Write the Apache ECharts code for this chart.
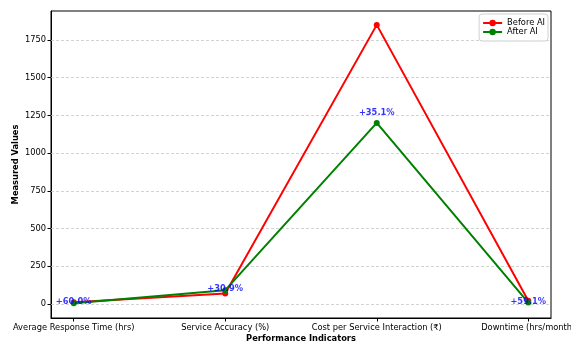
<!DOCTYPE html>
<html>
<head>
<meta charset="utf-8">
<script src="https://cdn.jsdelivr.net/npm/echarts@6/dist/echarts.min.js"></script>
<style>
  html, body { margin: 0; padding: 0; background: #fff; }
  #chart { width: 571px; height: 343px; }
</style>
</head>
<body>
<div id="chart"></div>
<script>
// Performance indicators before and after AI adoption
const categories = [
  'Average Response Time (hrs)',
  'Service Accuracy (%)',
  'Cost per Service Interaction (₹)',
  'Downtime (hrs/month)'
];
const beforeAI = [12, 70, 1850, 22];
const afterAI = [4.8, 91.6, 1200, 9];
const yTicks = [0, 250, 500, 750, 1000, 1250, 1500, 1750];

const font = 'DejaVu Sans';
const idx = categories.map((_, i) => i);

// percentage change between the two states, shown above each "after" point
const changeLabels = beforeAI.map((b, i) =>
  '+' + (Math.abs(afterAI[i] - b) / b * 100).toFixed(1) + '%');

const chart = echarts.init(document.getElementById('chart'), null, { renderer: 'canvas' });

chart.setOption({
  animation: false,
  backgroundColor: '#fff',
  textStyle: { fontFamily: font },
  grid: {
    left: 51, right: 20, top: 11, bottom: 25,
    outerBoundsMode: 'none',
    containLabel: false,
    show: true, borderColor: '#000', borderWidth: 1, backgroundColor: 'transparent'
  },
  legend: {
    right: 23, top: 14,
    orient: 'vertical',
    itemWidth: 19, itemHeight: 8, itemGap: 1,
    padding: [5, 3, 5, 3],
    borderColor: '#d0d0d0', borderWidth: 1, borderRadius: 3,
    backgroundColor: 'rgba(255,255,255,0.85)',
    textStyle: { fontFamily: font, fontSize: 8.3, color: '#000' },
    data: ['Before AI', 'After AI']
  },
  xAxis: {
    type: 'value',
    min: -0.15, max: 3.15,
    name: 'Performance Indicators',
    nameLocation: 'middle',
    nameGap: 17,
    nameMoveOverlap: false,
    nameTextStyle: { fontFamily: font, fontSize: 8.3, fontWeight: 'bold', color: '#000' },
    axisLine: { show: true, onZero: false, lineStyle: { color: '#000', width: 1 } },
    axisTick: { show: true, inside: false, length: 3.5, customValues: idx, lineStyle: { color: '#000' } },
    axisLabel: {
      customValues: idx,
      formatter: v => categories[Math.round(v)],
      fontFamily: font, fontSize: 8.3, color: '#000', margin: 6
    },
    splitLine: { show: false }
  },
  yAxis: {
    type: 'value',
    min: -93, max: 1942,
    name: 'Measured Values',
    nameLocation: 'middle',
    nameGap: 31,
    nameMoveOverlap: false,
    nameTextStyle: { fontFamily: font, fontSize: 8.3, fontWeight: 'bold', color: '#000' },
    axisLine: { show: true, onZero: false, lineStyle: { color: '#000', width: 1 } },
    axisTick: { show: true, inside: false, length: 3.5, customValues: yTicks, lineStyle: { color: '#000' } },
    axisLabel: {
      customValues: yTicks,
      formatter: v => String(v),
      fontFamily: font, fontSize: 8.3, color: '#000', margin: 5
    },
    splitLine: { show: false }
  },
  series: [
    {
      name: 'Before AI',
      type: 'line',
      data: idx.map(i => [i, beforeAI[i]]),
      color: '#ff0000',
      lineStyle: { width: 2, color: '#ff0000' },
      symbol: 'circle', symbolSize: 6,
      itemStyle: { color: '#ff0000' },
      z: 3,
      // horizontal dashed grid at the y ticks
      markLine: {
        silent: true,
        symbol: 'none',
        label: { show: false },
        lineStyle: { type: [3, 2], color: '#c8c8c8', width: 0.8 },
        data: yTicks.map(t => ({ yAxis: t })),
        z: 1
      }
    },
    {
      name: 'After AI',
      type: 'line',
      data: idx.map(i => [i, afterAI[i]]),
      color: '#008000',
      lineStyle: { width: 2, color: '#008000' },
      symbol: 'circle', symbolSize: 6,
      itemStyle: { color: '#008000' },
      z: 4
    },
    {
      name: 'change',
      type: 'scatter',
      data: idx.map(i => [i, afterAI[i] * 1.05]),
      symbolSize: 0,
      silent: true,
      z: 6,
      label: {
        show: true,
        position: 'top',
        distance: 0,
        offset: [0, 3],
        formatter: p => changeLabels[p.dataIndex],
        fontFamily: font, fontSize: 8.3, fontWeight: 'bold', color: '#0000ff'
      }
    }
  ]
});
</script>
</body>
</html>
